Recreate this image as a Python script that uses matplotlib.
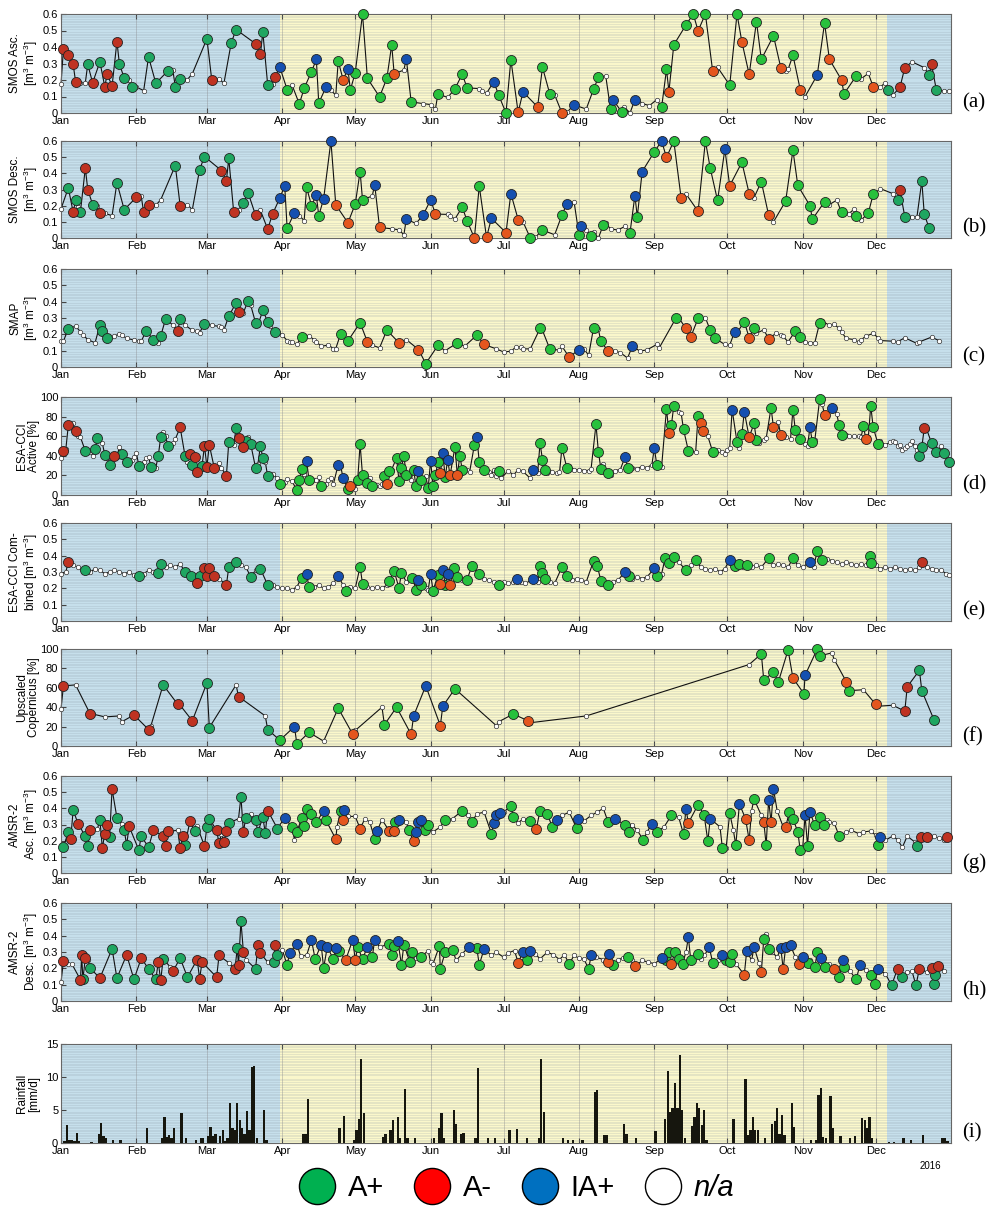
import numpy as np
import matplotlib.pyplot as plt
import matplotlib.dates as mdates
from matplotlib.lines import Line2D
from matplotlib.ticker import FuncFormatter

plt.rcParams['font.family'] = ['Liberation Sans', 'DejaVu Sans']
plt.rcParams['mathtext.default'] = 'regular'

# =========================
# DATA  (day of year 2016, value, class)
# class: g = A+, r = A-, b = IA+, n = n/a
# =========================
smos_asc = [
    (0, 0.173, 'n'), (1, 0.39, 'r'), (3, 0.35, 'r'), (5, 0.295, 'r'), (6, 0.19, 'r'), (7.8, 0.183, 'n'),
    (10, 0.183, 'n'), (11, 0.295, 'g'), (13, 0.183, 'r'), (16, 0.31, 'g'), (18, 0.16, 'r'), (19, 0.236, 'r'),
    (21, 0.163, 'r'), (23, 0.433, 'r'), (24, 0.30, 'g'), (26, 0.21, 'g'), (28, 0.197, 'n'), (29, 0.16, 'g'),
    (31, 0.157, 'n'), (34, 0.136, 'n'), (36, 0.34, 'g'), (39, 0.18, 'g'), (44, 0.256, 'g'), (46, 0.258, 'n'),
    (47, 0.16, 'g'), (49, 0.207, 'g'), (52, 0.203, 'n'), (54, 0.238, 'n'), (60, 0.45, 'g'), (62, 0.20, 'r'),
    (65, 0.207, 'n'), (67, 0.18, 'n'), (70, 0.425, 'g'), (72, 0.506, 'g'), (80, 0.42, 'r'), (82, 0.356, 'r'),
    (83, 0.49, 'g'), (85, 0.17, 'g'), (87, 0.175, 'n'), (88, 0.22, 'r'), (90, 0.277, 'b'), (93, 0.142, 'g'),
    (95, 0.17, 'n'), (98, 0.055, 'g'), (100, 0.15, 'g'), (103, 0.25, 'g'), (105, 0.325, 'b'), (106, 0.06, 'g'),
    (109, 0.158, 'b'), (111, 0.138, 'n'), (113, 0.108, 'n'), (114, 0.315, 'g'), (116, 0.203, 'r'),
    (118, 0.265, 'b'), (119, 0.14, 'g'), (121, 0.244, 'g'), (124, 0.60, 'g'), (126, 0.21, 'g'), (131, 0.098, 'g'),
    (134, 0.21, 'g'), (136, 0.413, 'g'), (137, 0.238, 'r'), (141, 0.26, 'n'), (142, 0.33, 'b'), (144, 0.067, 'g'),
    (149, 0.057, 'n'), (152, 0.051, 'n'), (154, 0.026, 'n'), (155, 0.116, 'g'), (159, 0.094, 'n'),
    (162, 0.146, 'g'), (165, 0.236, 'g'), (167, 0.152, 'g'), (172, 0.148, 'n'), (173, 0.136, 'n'),
    (175, 0.12, 'n'), (178, 0.19, 'b'), (180, 0.108, 'g'), (183, 0.0, 'g'), (185, 0.323, 'g'), (188, 0.004, 'r'),
    (190, 0.128, 'b'), (196, 0.037, 'r'), (198, 0.277, 'g'), (201, 0.116, 'g'), (203, 0.11, 'n'), (206, 0.0, 'r'),
    (208, 0.004, 'n'), (211, 0.049, 'b'), (216, 0.024, 'n'), (219, 0.144, 'g'), (221, 0.216, 'g'),
    (224, 0.226, 'n'), (226, 0.022, 'g'), (227, 0.08, 'b'), (230.5, 0.008, 'g'), (231.6, 0.037, 'n'),
    (234, 0.0, 'n'), (236, 0.081, 'b'), (237, 0.087, 'n'), (239, 0.057, 'n'), (242, 0.045, 'n'), (245, 0.081, 'n'),
    (247, 0.035, 'g'), (249, 0.264, 'g'), (250, 0.13, 'r'), (252, 0.413, 'g'), (257, 0.533, 'g'), (260, 0.60, 'g'),
    (262, 0.498, 'r'), (265, 0.60, 'g'), (268, 0.252, 'r'), (270, 0.277, 'n'), (275, 0.169, 'g'), (278, 0.60, 'g'),
    (280, 0.431, 'r'), (283, 0.234, 'r'), (286, 0.553, 'g'), (288, 0.325, 'g'), (293, 0.468, 'g'),
    (296, 0.275, 'r'), (298, 0.254, 'n'), (299, 0.264, 'n'), (301, 0.35, 'g'), (304, 0.142, 'r'), (306, 0.10, 'n'),
    (311, 0.23, 'b'), (314, 0.545, 'g'), (316, 0.325, 'r'), (321, 0.20, 'r'), (322, 0.116, 'g'), (327, 0.224, 'g'),
    (329, 0.207, 'n'), (332, 0.24, 'n'), (334, 0.159, 'r'), (337, 0.159, 'n'), (339, 0.183, 'n'),
    (340, 0.138, 'g'), (342, 0.108, 'n'), (345, 0.155, 'r'), (347, 0.275, 'r'), (350, 0.31, 'n'),
    (355, 0.275, 'n'), (357, 0.23, 'g'), (358, 0.295, 'r'), (360, 0.138, 'g'), (363, 0.134, 'n'), (365, 0.134, 'n'),
]

smos_desc = [
    (0, 0.18, 'n'), (3, 0.31, 'g'), (5, 0.16, 'r'), (6, 0.234, 'g'), (7, 0.193, 'n'), (8, 0.163, 'g'),
    (10, 0.433, 'r'), (11, 0.30, 'r'), (13, 0.207, 'g'), (15, 0.20, 'n'), (16, 0.157, 'r'), (18, 0.153, 'n'),
    (21, 0.138, 'n'), (23, 0.342, 'g'), (26, 0.175, 'g'), (31, 0.252, 'r'), (33, 0.258, 'n'), (34, 0.159, 'r'),
    (36, 0.203, 'r'), (39, 0.203, 'n'), (41, 0.236, 'n'), (47, 0.448, 'g'), (49, 0.20, 'r'), (52, 0.207, 'n'),
    (54, 0.175, 'n'), (57, 0.423, 'g'), (59, 0.504, 'g'), (66, 0.417, 'r'), (68, 0.352, 'r'), (69, 0.492, 'g'),
    (71, 0.163, 'r'), (73, 0.175, 'n'), (75, 0.218, 'g'), (77, 0.277, 'g'), (80, 0.142, 'r'), (82, 0.171, 'n'),
    (85, 0.055, 'r'), (87, 0.148, 'r'), (90, 0.248, 'b'), (92, 0.323, 'b'), (93, 0.059, 'g'), (96, 0.157, 'b'),
    (98, 0.138, 'n'), (100, 0.108, 'n'), (101, 0.313, 'g'), (103, 0.201, 'g'), (105, 0.264, 'b'),
    (106, 0.138, 'g'), (108, 0.242, 'b'), (111, 0.60, 'b'), (113, 0.205, 'r'), (118, 0.094, 'r'),
    (121, 0.21, 'g'), (123, 0.411, 'g'), (124, 0.236, 'g'), (128, 0.26, 'n'), (129, 0.33, 'b'), (131, 0.065, 'r'),
    (136, 0.057, 'n'), (139, 0.051, 'n'), (141, 0.02, 'n'), (142, 0.116, 'b'), (146, 0.09, 'n'),
    (149, 0.144, 'b'), (152, 0.236, 'b'), (154, 0.148, 'r'), (159, 0.146, 'n'), (160, 0.134, 'n'),
    (162, 0.118, 'n'), (165, 0.191, 'g'), (167, 0.106, 'g'), (170, 0.0, 'r'), (172, 0.321, 'g'), (175, 0.004, 'r'),
    (177, 0.122, 'b'), (183, 0.033, 'r'), (185, 0.275, 'b'), (188, 0.114, 'r'), (190, 0.10, 'n'), (193, 0.0, 'g'),
    (195, 0.004, 'n'), (198, 0.049, 'g'), (203, 0.02, 'n'), (206, 0.142, 'g'), (208, 0.21, 'b'),
    (211, 0.224, 'n'), (213, 0.02, 'g'), (214, 0.077, 'b'), (216, 0.049, 'n'), (218, 0.012, 'g'),
    (219, 0.037, 'n'), (221, 0.0, 'n'), (223, 0.081, 'g'), (224, 0.09, 'n'), (226, 0.057, 'n'), (229, 0.049, 'n'),
    (232, 0.073, 'n'), (234, 0.033, 'g'), (236, 0.262, 'b'), (237, 0.132, 'g'), (239, 0.411, 'b'),
    (244, 0.533, 'g'), (247, 0.60, 'b'), (249, 0.498, 'r'), (252, 0.60, 'g'), (255, 0.25, 'r'), (257, 0.273, 'n'),
    (262, 0.165, 'r'), (265, 0.60, 'g'), (267, 0.431, 'g'), (270, 0.232, 'g'), (273, 0.549, 'b'),
    (275, 0.323, 'r'), (280, 0.468, 'g'), (283, 0.275, 'r'), (285, 0.25, 'n'), (288, 0.348, 'g'),
    (291, 0.142, 'r'), (293, 0.10, 'n'), (298, 0.228, 'g'), (301, 0.543, 'g'), (303, 0.325, 'g'), (308, 0.20, 'g'),
    (309, 0.116, 'g'), (314, 0.224, 'g'), (316, 0.207, 'n'), (319, 0.234, 'n'), (321, 0.159, 'g'),
    (324, 0.15, 'n'), (326, 0.177, 'n'), (327, 0.136, 'g'), (329, 0.11, 'n'), (332, 0.155, 'g'), (334, 0.27, 'g'),
    (337, 0.305, 'n'), (342, 0.275, 'n'), (344, 0.234, 'g'), (345, 0.295, 'r'), (347, 0.132, 'g'),
    (350, 0.13, 'n'), (352, 0.132, 'n'), (354, 0.352, 'g'), (355, 0.148, 'g'), (357, 0.061, 'g'),
]

smap = [
    (0, 0.158, 'n'), (1, 0.158, 'n'), (3, 0.234, 'g'), (6, 0.25, 'n'), (8, 0.216, 'n'), (9, 0.197, 'n'),
    (11, 0.168, 'n'), (14, 0.148, 'n'), (16, 0.257, 'g'), (17, 0.218, 'g'), (19, 0.175, 'g'), (22, 0.189, 'n'),
    (24, 0.203, 'n'), (25, 0.195, 'n'), (27, 0.175, 'n'), (30, 0.166, 'n'), (32, 0.158, 'n'), (33, 0.158, 'n'),
    (35, 0.22, 'g'), (38, 0.168, 'g'), (40, 0.144, 'n'), (41, 0.189, 'g'), (43, 0.294, 'g'), (46, 0.257, 'n'),
    (48, 0.22, 'r'), (49, 0.296, 'g'), (51, 0.257, 'n'), (54, 0.224, 'n'), (56, 0.218, 'n'), (57, 0.21, 'n'),
    (59, 0.265, 'g'), (62, 0.255, 'n'), (65, 0.249, 'n'), (66, 0.245, 'n'), (67, 0.226, 'n'), (69, 0.312, 'g'),
    (72, 0.392, 'g'), (73, 0.339, 'r'), (75, 0.333, 'n'), (77, 0.407, 'g'), (78, 0.38, 'n'), (80, 0.271, 'g'),
    (81, 0.257, 'n'), (83, 0.347, 'g'), (85, 0.277, 'g'), (86, 0.249, 'n'), (88, 0.212, 'g'), (91, 0.195, 'n'),
    (93, 0.162, 'n'), (94, 0.154, 'n'), (95, 0.154, 'n'), (97, 0.138, 'n'), (99, 0.185, 'g'), (102, 0.191, 'n'),
    (104, 0.168, 'n'), (105, 0.154, 'n'), (107, 0.127, 'n'), (110, 0.134, 'n'), (112, 0.113, 'n'),
    (113, 0.113, 'n'), (115, 0.203, 'g'), (118, 0.16, 'g'), (123, 0.271, 'g'), (126, 0.154, 'r'),
    (128, 0.134, 'n'), (131, 0.117, 'n'), (134, 0.226, 'g'), (139, 0.148, 'r'), (142, 0.168, 'n'),
    (147, 0.107, 'r'), (150, 0.021, 'g'), (155, 0.132, 'g'), (158, 0.10, 'n'), (163, 0.148, 'g'),
    (166, 0.127, 'n'), (171, 0.195, 'g'), (174, 0.138, 'r'), (179, 0.111, 'n'), (182, 0.092, 'n'),
    (185, 0.097, 'n'), (187, 0.121, 'n'), (189, 0.125, 'n'), (190, 0.111, 'n'), (193, 0.111, 'n'),
    (197, 0.236, 'g'), (198, 0.224, 'n'), (201, 0.111, 'g'), (205, 0.103, 'n'), (206, 0.127, 'n'),
    (209, 0.06, 'r'), (213, 0.107, 'b'), (215, 0.111, 'n'), (217, 0.072, 'n'), (219, 0.24, 'g'), (221, 0.23, 'n'),
    (222, 0.158, 'g'), (225, 0.097, 'r'), (228, 0.097, 'n'), (230, 0.088, 'n'), (233, 0.055, 'n'),
    (235, 0.129, 'b'), (238, 0.097, 'n'), (241, 0.105, 'n'), (245, 0.138, 'n'), (246, 0.117, 'n'),
    (253, 0.302, 'g'), (254, 0.302, 'n'), (257, 0.236, 'r'), (259, 0.185, 'r'), (262, 0.298, 'g'),
    (265, 0.302, 'n'), (267, 0.224, 'g'), (269, 0.175, 'g'), (273, 0.138, 'n'), (275, 0.134, 'n'),
    (277, 0.216, 'b'), (278, 0.21, 'n'), (281, 0.277, 'g'), (283, 0.179, 'r'), (285, 0.24, 'g'), (286, 0.206, 'n'),
    (289, 0.228, 'n'), (291, 0.173, 'r'), (294, 0.206, 'n'), (296, 0.195, 'n'), (297, 0.187, 'n'),
    (299, 0.154, 'n'), (302, 0.22, 'g'), (304, 0.185, 'g'), (306, 0.154, 'n'), (308, 0.148, 'n'), (310, 0.15, 'n'),
    (312, 0.271, 'g'), (313, 0.282, 'n'), (316, 0.255, 'n'), (318, 0.261, 'n'), (320, 0.236, 'n'),
    (321, 0.212, 'n'), (323, 0.175, 'n'), (326, 0.168, 'n'), (328, 0.154, 'n'), (329, 0.166, 'n'),
    (331, 0.189, 'n'), (334, 0.206, 'n'), (336, 0.179, 'n'), (337, 0.162, 'n'), (342, 0.158, 'n'),
    (344, 0.154, 'n'), (347, 0.179, 'n'), (352, 0.144, 'n'), (353, 0.154, 'n'), (358, 0.183, 'n'), (361, 0.162, 'n'),
]

cci_active = [
    (0, 38, 'n'), (1, 45, 'r'), (2, 47, 'n'), (3, 71, 'r'), (5, 73, 'n'), (6, 65, 'r'), (7, 60, 'n'), (8, 59, 'n'),
    (10, 45, 'g'), (12, 44, 'n'), (13, 40, 'n'), (14, 47, 'g'), (15, 58, 'g'), (17, 53, 'n'), (18, 41, 'g'),
    (19, 38, 'n'), (20, 31, 'g'), (22, 40, 'r'), (23, 39, 'n'), (24, 49, 'n'), (25, 42, 'g'), (27, 34, 'g'),
    (29, 36, 'n'), (30, 39, 'n'), (31, 43, 'n'), (32, 30, 'g'), (34, 34, 'n'), (35, 38, 'n'), (36, 39, 'n'),
    (37, 29, 'g'), (39, 28, 'n'), (40, 40, 'g'), (41, 59, 'g'), (42, 64, 'n'), (43, 60, 'n'), (44, 50, 'g'),
    (46, 53, 'n'), (47, 57, 'n'), (49, 69, 'r'), (51, 40, 'g'), (52, 34, 'n'), (53, 42, 'r'), (54, 31, 'g'),
    (55, 39, 'r'), (56, 23, 'r'), (58, 30, 'g'), (59, 50, 'r'), (60, 29, 'r'), (61, 51, 'r'), (63, 28, 'r'),
    (64, 28, 'n'), (65, 33, 'n'), (66, 28, 'n'), (68, 19, 'r'), (69, 54, 'g'), (71, 51, 'n'), (72, 68, 'g'),
    (73, 58, 'r'), (75, 49, 'r'), (76, 55, 'g'), (77, 59, 'n'), (78, 52, 'g'), (80, 28, 'g'), (81, 32, 'n'),
    (82, 50, 'g'), (83, 38, 'g'), (84, 34, 'n'), (85, 19, 'g'), (87, 21, 'n'), (89, 17, 'n'), (90, 11, 'g'),
    (92, 13, 'n'), (93, 16, 'n'), (95, 14, 'n'), (97, 5, 'g'), (98, 15, 'g'), (99, 27, 'g'), (100, 21, 'n'),
    (101, 35, 'b'), (102, 15, 'g'), (104, 15, 'n'), (105, 15, 'n'), (106, 18, 'n'), (107, 9, 'g'), (109, 11, 'n'),
    (110, 15, 'n'), (111, 17, 'n'), (112, 11, 'n'), (114, 31, 'b'), (115, 30, 'n'), (116, 17, 'b'), (118, 6, 'g'),
    (119, 9, 'r'), (121, 6, 'n'), (122, 15, 'g'), (123, 52, 'g'), (124, 20, 'g'), (126, 12, 'g'), (127, 17, 'n'),
    (128, 9, 'g'), (130, 10, 'n'), (131, 9, 'n'), (132, 11, 'n'), (133, 19, 'g'), (134, 11, 'r'), (135, 25, 'g'),
    (136, 26, 'n'), (138, 38, 'g'), (139, 14, 'g'), (140, 28, 'g'), (141, 40, 'g'), (142, 20, 'g'), (144, 15, 'n'),
    (145, 26, 'g'), (146, 9, 'g'), (147, 25, 'b'), (148, 15, 'g'), (150, 19, 'n'), (151, 7, 'g'), (152, 35, 'b'),
    (153, 9, 'g'), (154, 20, 'g'), (155, 34, 'g'), (156, 22, 'r'), (157, 43, 'b'), (158, 18, 'g'), (159, 36, 'b'),
    (160, 20, 'r'), (162, 49, 'g'), (163, 20, 'r'), (164, 40, 'g'), (165, 26, 'g'), (167, 26, 'n'), (168, 23, 'n'),
    (170, 51, 'g'), (171, 59, 'b'), (172, 34, 'g'), (174, 26, 'g'), (176, 23, 'n'), (177, 20, 'n'), (178, 26, 'n'),
    (179, 19, 'n'), (180, 24, 'g'), (181, 17, 'n'), (184, 25, 'n'), (186, 20, 'n'), (188, 26, 'n'), (190, 24, 'n'),
    (193, 17, 'n'), (194, 26, 'b'), (196, 22, 'n'), (197, 53, 'g'), (198, 36, 'g'), (199, 26, 'g'), (200, 22, 'n'),
    (202, 23, 'n'), (204, 22, 'n'), (205, 23, 'n'), (206, 48, 'g'), (208, 28, 'g'), (209, 30, 'n'), (211, 26, 'n'),
    (213, 26, 'n'), (215, 25, 'n'), (217, 25, 'n'), (218, 27, 'n'), (220, 72, 'g'), (221, 44, 'g'), (222, 27, 'g'),
    (223, 32, 'n'), (225, 22, 'g'), (226, 20, 'n'), (228, 25, 'n'), (230, 26, 'n'), (232, 39, 'b'), (233, 28, 'g'),
    (235, 28, 'n'), (237, 27, 'n'), (239, 29, 'n'), (241, 28, 'n'), (243, 31, 'n'), (244, 48, 'b'), (245, 31, 'g'),
    (247, 29, 'n'), (249, 88, 'g'), (250, 63, 'r'), (251, 71, 'g'), (252, 91, 'g'), (254, 85, 'n'), (255, 84, 'n'),
    (256, 67, 'g'), (258, 45, 'g'), (261, 44, 'n'), (262, 81, 'g'), (263, 73, 'r'), (264, 65, 'r'), (266, 60, 'n'),
    (268, 44, 'g'), (270, 46, 'n'), (272, 44, 'n'), (273, 42, 'n'), (274, 46, 'n'), (275, 48, 'n'), (276, 87, 'b'),
    (278, 54, 'g'), (279, 48, 'n'), (280, 62, 'g'), (281, 85, 'b'), (283, 59, 'r'), (285, 73, 'g'), (286, 56, 'g'),
    (287, 53, 'n'), (289, 56, 'n'), (290, 58, 'n'), (292, 89, 'g'), (293, 69, 'r'), (295, 74, 'n'), (296, 61, 'r'),
    (298, 59, 'n'), (300, 57, 'n'), (301, 87, 'g'), (302, 66, 'g'), (304, 57, 'g'), (306, 52, 'n'), (307, 50, 'n'),
    (308, 69, 'b'), (309, 54, 'g'), (310, 56, 'n'), (312, 98, 'g'), (313, 93, 'n'), (314, 82, 'r'), (315, 80, 'n'),
    (317, 89, 'b'), (319, 83, 'n'), (320, 71, 'g'), (321, 61, 'g'), (323, 61, 'n'), (324, 60, 'n'), (326, 60, 'n'),
    (328, 60, 'n'), (329, 59, 'n'), (330, 70, 'g'), (331, 57, 'r'), (332, 59, 'n'), (333, 91, 'g'), (334, 69, 'g'),
    (336, 52, 'g'), (337, 55, 'n'), (339, 51, 'n'), (341, 54, 'n'), (342, 55, 'n'), (343, 54, 'n'), (344, 50, 'n'),
    (345, 51, 'n'), (346, 46, 'n'), (347, 48, 'n'), (348, 50, 'n'), (349, 52, 'n'), (350, 55, 'n'), (351, 50, 'n'),
    (352, 46, 'n'), (353, 40, 'g'), (354, 49, 'g'), (355, 68, 'r'), (356, 67, 'n'), (358, 53, 'g'), (359, 50, 'n'),
    (360, 44, 'g'), (362, 50, 'n'), (363, 43, 'g'), (365, 34, 'g'),
]

cci_combined = [
    (0, 0.29, 'n'), (2, 0.30, 'n'), (3, 0.363, 'r'), (5, 0.34, 'n'), (7, 0.33, 'n'), (9, 0.31, 'n'),
    (10, 0.31, 'g'), (12, 0.30, 'n'), (14, 0.32, 'n'), (16, 0.31, 'n'), (18, 0.29, 'n'), (20, 0.30, 'n'),
    (22, 0.31, 'n'), (24, 0.30, 'n'), (26, 0.29, 'n'), (28, 0.30, 'n'), (30, 0.28, 'n'), (32, 0.276, 'g'),
    (34, 0.29, 'n'), (36, 0.31, 'n'), (38, 0.30, 'n'), (40, 0.295, 'g'), (41, 0.346, 'g'), (43, 0.33, 'n'),
    (45, 0.34, 'n'), (47, 0.33, 'n'), (49, 0.35, 'n'), (51, 0.30, 'g'), (53.5, 0.276, 'g'), (56, 0.23, 'r'),
    (57, 0.276, 'g'), (59, 0.326, 'r'), (60, 0.274, 'r'), (61, 0.326, 'r'), (63, 0.278, 'r'), (65, 0.26, 'n'),
    (68, 0.219, 'r'), (69, 0.33, 'g'), (72, 0.363, 'g'), (74, 0.34, 'n'), (76, 0.33, 'n'), (78, 0.272, 'g'),
    (80, 0.31, 'n'), (82, 0.32, 'g'), (85, 0.22, 'g'), (87, 0.22, 'n'), (89, 0.21, 'n'), (91, 0.20, 'n'),
    (93, 0.20, 'n'), (95, 0.19, 'n'), (97, 0.21, 'n'), (99, 0.264, 'g'), (101, 0.289, 'b'), (102, 0.206, 'g'),
    (104, 0.21, 'n'), (106, 0.22, 'n'), (108, 0.20, 'n'), (110, 0.21, 'n'), (112, 0.23, 'n'), (114, 0.276, 'b'),
    (116, 0.22, 'n'), (117, 0.181, 'g'), (119, 0.21, 'n'), (121, 0.20, 'n'), (123, 0.332, 'g'), (124, 0.227, 'g'),
    (126, 0.21, 'n'), (128, 0.20, 'n'), (130, 0.21, 'n'), (132, 0.20, 'n'), (134, 0.22, 'n'), (135, 0.243, 'g'),
    (137, 0.305, 'g'), (139, 0.202, 'g'), (140, 0.295, 'g'), (142, 0.24, 'n'), (144.5, 0.264, 'g'),
    (146, 0.192, 'g'), (147, 0.254, 'b'), (148, 0.223, 'g'), (150, 0.20, 'n'), (151, 0.19, 'n'), (152, 0.289, 'b'),
    (153, 0.186, 'g'), (155, 0.28, 'g'), (156, 0.227, 'r'), (157, 0.313, 'b'), (158, 0.223, 'g'), (159, 0.289, 'b'),
    (160, 0.223, 'r'), (161.6, 0.326, 'g'), (163, 0.268, 'g'), (165, 0.25, 'n'), (167, 0.254, 'g'),
    (169, 0.338, 'g'), (172, 0.285, 'g'), (174, 0.26, 'n'), (176, 0.25, 'n'), (178, 0.24, 'n'), (180, 0.223, 'g'),
    (182, 0.24, 'n'), (184, 0.23, 'n'), (186, 0.24, 'n'), (187.5, 0.256, 'b'), (189, 0.24, 'n'), (191, 0.23, 'n'),
    (194, 0.256, 'b'), (196, 0.24, 'n'), (197, 0.336, 'g'), (198, 0.295, 'g'), (199, 0.26, 'g'), (201, 0.24, 'n'),
    (203, 0.23, 'n'), (206, 0.33, 'g'), (208, 0.274, 'g'), (210, 0.25, 'n'), (212, 0.26, 'n'), (214, 0.25, 'n'),
    (216, 0.24, 'n'), (219, 0.367, 'g'), (220.6, 0.336, 'g'), (222, 0.247, 'g'), (225, 0.223, 'g'),
    (227, 0.24, 'n'), (229, 0.25, 'n'), (232, 0.30, 'b'), (233.5, 0.276, 'g'), (235, 0.26, 'n'), (237, 0.27, 'n'),
    (239, 0.26, 'n'), (241, 0.27, 'n'), (244, 0.322, 'b'), (245, 0.274, 'g'), (247, 0.29, 'n'), (248.5, 0.388, 'g'),
    (250, 0.357, 'g'), (252, 0.394, 'g'), (254, 0.36, 'n'), (257, 0.313, 'g'), (259, 0.34, 'n'), (261, 0.371, 'g'),
    (263, 0.33, 'n'), (265, 0.32, 'n'), (267, 0.31, 'n'), (269, 0.32, 'n'), (271, 0.30, 'n'), (273, 0.32, 'n'),
    (275, 0.375, 'b'), (277, 0.336, 'g'), (279, 0.35, 'g'), (280.5, 0.33, 'n'), (282, 0.344, 'g'), (284, 0.33, 'n'),
    (286, 0.34, 'n'), (288, 0.33, 'n'), (291, 0.384, 'g'), (293, 0.34, 'n'), (295, 0.35, 'n'), (297, 0.34, 'n'),
    (299, 0.33, 'n'), (301, 0.384, 'g'), (303, 0.34, 'n'), (305, 0.33, 'n'), (308, 0.363, 'b'), (309.5, 0.33, 'n'),
    (311, 0.429, 'g'), (313, 0.371, 'g'), (315, 0.38, 'n'), (317, 0.37, 'n'), (319, 0.36, 'n'), (321, 0.35, 'n'),
    (323, 0.36, 'n'), (325, 0.35, 'n'), (327, 0.34, 'n'), (329, 0.35, 'n'), (331, 0.34, 'n'), (332.5, 0.398, 'g'),
    (333, 0.357, 'g'), (335, 0.34, 'n'), (337, 0.32, 'n'), (339, 0.33, 'n'), (341, 0.32, 'n'), (343, 0.33, 'n'),
    (345, 0.32, 'n'), (347, 0.31, 'n'), (349, 0.32, 'n'), (351, 0.31, 'n'), (353, 0.33, 'n'), (354, 0.363, 'r'),
    (356, 0.33, 'n'), (358, 0.32, 'n'), (360, 0.31, 'n'), (362, 0.31, 'n'), (364, 0.29, 'n'), (365, 0.28, 'n'),
]

copernicus = [
    (0, 38, 'n'), (1, 62, 'r'), (6, 63, 'n'), (12, 33, 'r'), (13, 33, 'n'), (18, 30, 'n'), (24, 31, 'n'),
    (25, 25, 'n'), (30, 32, 'r'), (36, 17, 'r'), (37, 21, 'n'), (42, 63, 'g'), (48, 43, 'r'), (49, 42, 'n'),
    (54, 26, 'r'), (60, 65, 'g'), (61, 19, 'g'), (72, 63, 'n'), (73, 51, 'r'), (84, 31, 'n'), (85, 17, 'g'),
    (90, 6, 'g'), (96, 20, 'b'), (97, 2, 'g'), (102, 14, 'g'), (108, 5, 'n'), (114, 39, 'g'), (120, 12, 'r'),
    (121, 16, 'n'), (132, 40, 'n'), (133, 22, 'g'), (138, 40, 'g'), (144, 12, 'r'), (145, 31, 'b'), (150, 62, 'b'),
    (156, 21, 'r'), (157, 41, 'b'), (162, 59, 'g'), (179, 21, 'n'), (180, 25, 'n'), (186, 33, 'g'), (192, 26, 'r'),
    (193, 24, 'n'), (216, 31, 'n'), (283, 84, 'n'), (288, 95, 'g'), (289, 68, 'g'), (293, 76, 'g'), (295, 66, 'g'),
    (299, 99, 'g'), (301, 70, 'r'), (305.5, 54, 'g'), (306, 73, 'b'), (311, 100, 'g'), (312, 93, 'g'),
    (317, 96, 'n'), (318, 89, 'n'), (323, 66, 'r'), (324, 57, 'g'), (330, 58, 'n'), (335, 43, 'r'), (336, 41, 'n'),
    (342, 42, 'n'), (347, 36, 'r'), (348, 61, 'r'), (353, 78, 'g'), (354, 57, 'g'), (359, 27, 'g'), (360, 25, 'n'),
]

amsr_asc = [
    (0, 0.159, 'n'), (1, 0.159, 'g'), (3, 0.256, 'g'), (4, 0.21, 'r'), (5, 0.39, 'g'), (7, 0.305, 'r'),
    (10, 0.228, 'g'), (11, 0.167, 'g'), (12, 0.264, 'r'), (15, 0.275, 'n'), (16, 0.33, 'g'), (17, 0.153, 'r'),
    (18, 0.244, 'r'), (19, 0.295, 'r'), (20, 0.224, 'g'), (21, 0.519, 'r'), (23, 0.342, 'g'), (25, 0.305, 'n'),
    (26, 0.264, 'g'), (27, 0.173, 'g'), (28, 0.289, 'r'), (32, 0.142, 'g'), (33, 0.228, 'g'), (36, 0.159, 'g'),
    (38, 0.264, 'r'), (42, 0.228, 'r'), (43, 0.167, 'r'), (44, 0.258, 'r'), (48, 0.264, 'n'), (49, 0.153, 'r'),
    (50, 0.228, 'r'), (51, 0.173, 'g'), (53, 0.319, 'r'), (55, 0.26, 'g'), (56, 0.289, 'n'), (59, 0.167, 'r'),
    (60, 0.285, 'g'), (61, 0.336, 'g'), (64, 0.264, 'r'), (65, 0.183, 'r'), (66, 0.244, 'n'), (67, 0.193, 'r'),
    (68, 0.26, 'r'), (69, 0.309, 'g'), (73, 0.336, 'n'), (74, 0.472, 'g'), (75, 0.254, 'r'), (76, 0.342, 'g'),
    (78, 0.366, 'n'), (80, 0.325, 'g'), (81, 0.254, 'g'), (83, 0.346, 'g'), (84, 0.248, 'g'), (85, 0.386, 'r'),
    (89, 0.275, 'g'), (92, 0.342, 'b'), (95, 0.285, 'g'), (96, 0.207, 'n'), (97, 0.254, 'g'), (99, 0.342, 'g'),
    (100, 0.291, 'g'), (101, 0.397, 'g'), (103, 0.362, 'g'), (105, 0.315, 'g'), (108, 0.382, 'b'),
    (109, 0.325, 'g'), (113, 0.21, 'r'), (113.5, 0.285, 'n'), (115, 0.386, 'g'), (116, 0.325, 'r'),
    (116.5, 0.392, 'b'), (118, 0.35, 'n'), (121, 0.35, 'n'), (123, 0.275, 'r'), (125, 0.336, 'n'),
    (127, 0.315, 'n'), (129, 0.21, 'g'), (130, 0.26, 'b'), (132, 0.33, 'n'), (135, 0.26, 'r'), (137, 0.26, 'r'),
    (137.5, 0.315, 'g'), (139, 0.33, 'b'), (142, 0.315, 'n'), (143, 0.264, 'g'), (145, 0.197, 'r'),
    (146, 0.254, 'b'), (147, 0.315, 'b'), (148, 0.33, 'b'), (149.5, 0.264, 'g'), (151, 0.295, 'g'),
    (153, 0.254, 'n'), (156, 0.285, 'n'), (158, 0.33, 'g'), (161, 0.336, 'n'), (165, 0.386, 'g'),
    (167.5, 0.36, 'n'), (169, 0.315, 'g'), (171, 0.366, 'n'), (174, 0.376, 'n'), (177, 0.244, 'g'),
    (178, 0.309, 'b'), (179, 0.356, 'b'), (180.5, 0.37, 'b'), (182, 0.376, 'n'), (185, 0.417, 'g'),
    (186, 0.346, 'g'), (188, 0.309, 'n'), (190, 0.336, 'n'), (193, 0.321, 'g'), (195.5, 0.275, 'r'),
    (197, 0.386, 'g'), (199, 0.376, 'n'), (200, 0.366, 'g'), (202, 0.285, 'g'), (204, 0.33, 'b'), (206, 0.356, 'n'),
    (209, 0.376, 'n'), (212, 0.279, 'g'), (212.5, 0.336, 'b'), (215, 0.321, 'n'), (218, 0.356, 'n'),
    (220.5, 0.376, 'n'), (223, 0.40, 'n'), (225, 0.315, 'g'), (227, 0.315, 'n'), (228, 0.336, 'b'),
    (232, 0.295, 'g'), (233.5, 0.254, 'g'), (235, 0.295, 'n'), (237, 0.264, 'n'), (239.5, 0.203, 'g'),
    (241, 0.254, 'n'), (243, 0.305, 'b'), (245, 0.254, 'g'), (248, 0.285, 'n'), (251, 0.356, 'g'),
    (254, 0.346, 'n'), (256, 0.24, 'g'), (257, 0.397, 'b'), (258, 0.309, 'r'), (262, 0.423, 'g'),
    (264.5, 0.356, 'g'), (266, 0.197, 'g'), (267, 0.336, 'b'), (271, 0.285, 'n'), (272, 0.153, 'g'),
    (273.5, 0.153, 'n'), (275, 0.37, 'g'), (276.5, 0.264, 'n'), (277.5, 0.173, 'g'), (279, 0.427, 'b'),
    (281.5, 0.336, 'r'), (283, 0.203, 'r'), (284, 0.386, 'n'), (285, 0.458, 'g'), (288, 0.356, 'n'),
    (289, 0.315, 'r'), (290, 0.173, 'g'), (291, 0.452, 'b'), (292, 0.315, 'r'), (293, 0.519, 'b'),
    (294.5, 0.386, 'n'), (297, 0.285, 'n'), (298, 0.285, 'r'), (299.5, 0.376, 'g'), (301, 0.336, 'g'),
    (303, 0.254, 'g'), (304, 0.142, 'g'), (305, 0.153, 'n'), (306, 0.356, 'b'), (307, 0.167, 'g'),
    (308, 0.376, 'b'), (310, 0.295, 'g'), (311, 0.315, 'n'), (312, 0.346, 'g'), (313.6, 0.295, 'g'),
    (315, 0.325, 'n'), (316, 0.315, 'n'), (318, 0.309, 'n'), (320, 0.228, 'g'), (323, 0.254, 'n'),
    (325, 0.264, 'n'), (328, 0.244, 'n'), (330, 0.254, 'n'), (333, 0.26, 'n'), (335, 0.234, 'n'), (336, 0.173, 'g'),
    (337, 0.224, 'b'), (339, 0.203, 'n'), (342, 0.228, 'n'), (344, 0.207, 'n'), (346, 0.159, 'n'),
    (348, 0.228, 'n'), (351, 0.193, 'n'), (352, 0.167, 'g'), (353.5, 0.224, 'r'), (355, 0.21, 'n'),
    (356, 0.224, 'r'), (359, 0.228, 'n'), (361, 0.214, 'n'), (363, 0.203, 'n'), (364.5, 0.22, 'r'),
]

amsr_desc = [
    (0, 0.116, 'n'), (1, 0.242, 'r'), (3, 0.228, 'n'), (4.5, 0.226, 'n'), (8, 0.13, 'r'), (8.5, 0.279, 'r'),
    (9, 0.132, 'g'), (10, 0.262, 'r'), (11, 0.254, 'n'), (12, 0.201, 'g'), (16, 0.14, 'r'), (21, 0.319, 'g'),
    (23, 0.14, 'g'), (27, 0.283, 'r'), (30, 0.132, 'g'), (33, 0.262, 'r'), (36, 0.197, 'g'), (39, 0.132, 'g'),
    (40, 0.238, 'r'), (41, 0.126, 'r'), (42, 0.258, 'g'), (45, 0.207, 'n'), (46, 0.181, 'r'), (49, 0.262, 'g'),
    (52, 0.146, 'g'), (56, 0.254, 'r'), (57, 0.136, 'r'), (58, 0.238, 'r'), (64, 0.146, 'r'), (65, 0.279, 'r'),
    (69, 0.234, 'n'), (71.5, 0.193, 'r'), (72.5, 0.323, 'g'), (73, 0.218, 'r'), (74, 0.488, 'g'), (75, 0.303, 'r'),
    (76, 0.254, 'n'), (80, 0.197, 'g'), (81, 0.34, 'r'), (82, 0.293, 'r'), (85, 0.238, 'n'), (87.5, 0.238, 'g'),
    (88, 0.344, 'r'), (89, 0.279, 'g'), (91, 0.315, 'n'), (93, 0.218, 'g'), (94, 0.295, 'b'), (97, 0.35, 'b'),
    (98.5, 0.275, 'n'), (101, 0.279, 'n'), (103, 0.374, 'b'), (104.5, 0.258, 'g'), (107, 0.344, 'b'),
    (108, 0.203, 'g'), (109.5, 0.33, 'b'), (112, 0.258, 'g'), (113, 0.323, 'b'), (114.5, 0.309, 'g'),
    (117, 0.248, 'r'), (120, 0.376, 'b'), (121, 0.248, 'r'), (122, 0.33, 'g'), (124, 0.258, 'g'), (126, 0.33, 'b'),
    (128, 0.268, 'g'), (129, 0.376, 'b'), (131, 0.33, 'n'), (135, 0.35, 'g'), (136, 0.283, 'g'), (137, 0.335, 'g'),
    (138.5, 0.37, 'b'), (140, 0.222, 'g'), (141, 0.344, 'g'), (143.5, 0.238, 'g'), (144.5, 0.299, 'g'),
    (146, 0.262, 'n'), (148, 0.268, 'g'), (151, 0.309, 'n'), (152, 0.238, 'n'), (153, 0.228, 'n'),
    (155.6, 0.335, 'g'), (156, 0.197, 'g'), (158, 0.299, 'g'), (161, 0.315, 'g'), (162.5, 0.248, 'n'),
    (165, 0.289, 'n'), (167.6, 0.33, 'b'), (169, 0.319, 'n'), (171, 0.323, 'g'), (172, 0.222, 'g'),
    (174, 0.319, 'b'), (177, 0.279, 'n'), (179, 0.299, 'n'), (182, 0.268, 'n'), (184, 0.295, 'n'),
    (186.5, 0.309, 'n'), (188, 0.234, 'r'), (190, 0.299, 'b'), (191.6, 0.254, 'g'), (193, 0.309, 'b'),
    (195, 0.289, 'n'), (197, 0.258, 'n'), (200, 0.299, 'n'), (202.5, 0.283, 'n'), (205, 0.254, 'n'),
    (207, 0.283, 'n'), (209, 0.228, 'g'), (211, 0.279, 'n'), (213, 0.262, 'n'), (215, 0.258, 'n'),
    (217, 0.197, 'g'), (218, 0.279, 'b'), (220, 0.268, 'n'), (223, 0.254, 'n'), (225, 0.238, 'r'),
    (225.5, 0.289, 'b'), (227, 0.218, 'g'), (229, 0.254, 'n'), (231, 0.262, 'n'), (233, 0.268, 'g'),
    (235, 0.248, 'n'), (236, 0.212, 'r'), (239, 0.248, 'n'), (241.6, 0.238, 'n'), (244, 0.228, 'n'),
    (247, 0.262, 'b'), (249, 0.248, 'g'), (250, 0.299, 'g'), (251, 0.228, 'r'), (252.5, 0.299, 'g'),
    (254, 0.258, 'g'), (255.6, 0.228, 'g'), (257, 0.299, 'n'), (258, 0.39, 'b'), (259, 0.248, 'g'),
    (262, 0.289, 'g'), (263, 0.258, 'n'), (264.6, 0.279, 'n'), (266.6, 0.33, 'b'), (268, 0.234, 'g'),
    (270, 0.248, 'n'), (272, 0.283, 'b'), (273.6, 0.248, 'g'), (275, 0.238, 'g'), (276, 0.289, 'g'),
    (277.5, 0.228, 'n'), (281, 0.161, 'r'), (282, 0.309, 'b'), (284, 0.248, 'n'), (285, 0.33, 'b'),
    (287, 0.234, 'n'), (288, 0.177, 'r'), (289, 0.38, 'g'), (290, 0.411, 'n'), (291, 0.319, 'g'),
    (292.5, 0.299, 'n'), (294.5, 0.268, 'n'), (296, 0.323, 'b'), (297, 0.197, 'r'), (298, 0.33, 'b'),
    (300, 0.34, 'b'), (302, 0.268, 'n'), (303.5, 0.228, 'r'), (305, 0.268, 'b'), (307, 0.234, 'g'),
    (308, 0.248, 'n'), (310, 0.207, 'g'), (311, 0.299, 'g'), (312.5, 0.264, 'b'), (314, 0.207, 'g'),
    (316, 0.228, 'n'), (318, 0.197, 'r'), (320, 0.146, 'g'), (321.5, 0.254, 'b'), (322, 0.207, 'g'),
    (324.6, 0.181, 'n'), (327, 0.132, 'g'), (328.6, 0.222, 'b'), (331, 0.187, 'n'), (333, 0.157, 'g'),
    (334.6, 0.106, 'g'), (336, 0.197, 'b'), (339, 0.167, 'n'), (341.6, 0.096, 'g'), (344, 0.197, 'r'),
    (346, 0.146, 'g'), (348, 0.177, 'n'), (350, 0.181, 'n'), (351.6, 0.096, 'g'), (353, 0.197, 'r'),
    (356, 0.177, 'n'), (358, 0.201, 'r'), (359, 0.106, 'g'), (359.5, 0.157, 'g'), (360.6, 0.214, 'r'),
    (362, 0.207, 'n'), (363, 0.181, 'n'),
]

# daily rainfall [mm/d]
rain = [
    (1, 0.3), (2, 2.8), (3, 0.4), (4, 0.4), (5, 0.3), (6, 1.5), (7, 0.3), (12, 0.2), (15, 1.4), (16, 3.0),
    (17, 1.0), (18, 0.8), (21, 0.5), (24, 0.4), (35, 2.3), (41, 0.8), (42, 4.0), (43, 0.9), (44, 1.2), (45, 0.8),
    (46, 2.2), (49, 4.5), (51, 0.7), (55, 0.4), (57, 0.8), (58, 0.8), (60, 1.0), (61, 2.5), (62, 1.0), (63, 1.3),
    (65, 1.0), (66, 1.9), (67, 0.3), (68, 0.8), (69, 6.1), (70, 2.2), (71, 1.9), (72, 6.0), (73, 3.5), (74, 2.2),
    (75, 1.4), (76, 4.9), (77, 1.9), (78, 11.5), (79, 11.6), (80, 0.8), (83, 5.0), (84, 0.4),
    (99, 1.4), (100, 1.3), (101, 6.6), (114, 2.2), (116, 4.1), (120, 0.5), (121, 2.0), (122, 3.7), (123, 12.7),
    (124, 4.6), (132, 0.9), (133, 1.3), (135, 2.0), (136, 3.5), (138, 4.0), (139, 0.8), (141, 8.2), (142, 0.8),
    (145, 0.7), (153, 0.7), (155, 2.2), (156, 4.6), (157, 0.7), (161, 5.0), (162, 2.9), (164, 1.4), (165, 1.5),
    (170, 0.7), (171, 11.4), (175, 0.8), (178, 0.7), (184, 2.0), (187, 2.1), (191, 0.7), (196, 0.7), (197, 12.7),
    (198, 4.7), (206, 0.7), (208, 0.5), (210, 0.5), (214, 0.5), (219, 7.7), (220, 8.0), (223, 1.2), (224, 1.2),
    (231, 2.9), (232, 1.4), (236, 0.7), (244, 1.8), (248, 3.7), (249, 10.9), (250, 4.7), (251, 5.3), (252, 9.1),
    (253, 5.3), (254, 13.3), (255, 5.0), (256, 0.7), (259, 2.6), (260, 4.0), (261, 6.0), (262, 5.3), (263, 2.7),
    (264, 5.0), (265, 0.4), (276, 3.6), (281, 9.7), (282, 1.2), (283, 2.0), (284, 3.9), (285, 1.9), (286, 1.9),
    (289, 0.7), (292, 2.9), (293, 3.4), (294, 5.3), (295, 1.4), (296, 4.2), (297, 1.2), (300, 6.1), (301, 2.4),
    (308, 0.4), (310, 0.4), (311, 7.3), (312, 8.3), (313, 0.9), (314, 0.8), (316, 7.1), (317, 2.3), (320, 1.0),
    (324, 0.8), (326, 1.0), (329, 3.8), (330, 3.5), (331, 2.3), (332, 4.0), (333, 0.7), (340, 0.2), (342, 0.2),
    (346, 0.7), (349, 0.5), (354, 1.2), (362, 0.8), (363, 0.7), (364, 0.3),
]

ylabels = ['SMOS Asc.\n[m$^3$ m$^{-3}$]', 'SMOS Desc.\n[m$^3$ m$^{-3}$]', 'SMAP\n[m$^3$ m$^{-3}$]',
           'ESA-CCI\nActive [%]', 'ESA-CCI Com-\nbined [m$^3$ m$^{-3}$]', 'Upscaled\nCopernicus [%]',
           'AMSR-2\nAsc. [m$^3$ m$^{-3}$]', 'AMSR-2\nDesc. [m$^3$ m$^{-3}$]', 'Rainfall\n[mm/d]']
tags = ['(a)', '(b)', '(c)', '(d)', '(e)', '(f)', '(g)', '(h)', '(i)']

# =========================
# STYLE
# =========================
BLUE_BG = '#c6dfeb'
YEL_BG = '#faf7cb'
COL_YEL = {'g': '#27c13c', 'r': '#e4561e', 'b': '#1550b0'}
COL_BLU = {'g': '#1fa661', 'r': '#bf3322', 'b': '#1a4d9c'}
WET_END = 90.0      # end of first wet (blue) period, day of year
WET_START = 339.5   # start of second wet period

start = np.datetime64('2016-01-01T00')
end = np.datetime64('2017-01-01T00')
month_ticks = [np.datetime64(f'2016-{m:02d}-01T00') for m in range(1, 13)]


def to_dates(days):
    hours = np.round(np.asarray(days, dtype=float) * 24).astype(int)
    return start + hours.astype('timedelta64[h]')


def style_axes(ax, ylim, ystep, tag, ylabel):
    ax.set_xlim(start, end)
    ax.set_ylim(*ylim)
    ax.axvspan(start, to_dates([WET_END])[0], color=BLUE_BG, zorder=0, lw=0)
    ax.axvspan(to_dates([WET_END])[0], to_dates([WET_START])[0], color=YEL_BG, zorder=0, lw=0)
    ax.axvspan(to_dates([WET_START])[0], end, color=BLUE_BG, zorder=0, lw=0)
    ax.set_yticks(np.arange(ylim[0], ylim[1] + ystep / 2, ystep))
    ax.set_yticks(np.linspace(ylim[0], ylim[1], 61), minor=True)
    ax.yaxis.set_major_formatter(FuncFormatter(lambda v, _: f'{v:g}'))
    ax.set_xticks(month_ticks)
    ax.xaxis.set_major_formatter(mdates.DateFormatter('%b'))
    ax.set_axisbelow(True)
    ax.grid(axis='y', which='minor', color='#8c98a4', alpha=0.35, lw=0.4)
    ax.grid(axis='x', which='major', color='#888888', alpha=0.45, lw=0.6)
    ax.tick_params(which='major', direction='in', length=3.5, top=True, labelsize=8,
                   color='#444444', pad=2)
    ax.tick_params(which='minor', length=0)
    for s in ax.spines.values():
        s.set_color('#666666')
        s.set_linewidth(0.8)
    ax.set_ylabel(ylabel, fontsize=8.5, linespacing=1.0)
    ax.yaxis.set_label_coords(-0.024, 0.5)
    ax.text(1.012, 0.1, tag, transform=ax.transAxes, fontsize=15,
            family=['Liberation Serif', 'DejaVu Serif'], va='center', ha='left')


# =========================
# PLOT
# =========================
fig = plt.figure(figsize=(9.87, 12.09), dpi=100)
W, H = 987.0, 1209.0
tops = [14, 141, 269, 397, 523, 649, 776, 903, 1044]
bots = [113, 238, 367, 495, 621, 746, 873, 1001, 1143]

series = [smos_asc, smos_desc, smap, cci_active, cci_combined, copernicus, amsr_asc, amsr_desc]
limits = [(0, 0.6), (0, 0.6), (0, 0.6), (0, 100), (0, 0.6), (0, 100), (0, 0.6), (0, 0.6)]
steps = [0.1, 0.1, 0.1, 20, 0.1, 20, 0.1, 0.1]

for i in range(9):
    ax = fig.add_axes([61 / W, 1 - bots[i] / H, 890 / W, (bots[i] - tops[i]) / H])
    if i < 8:
        style_axes(ax, limits[i], steps[i], tags[i], ylabels[i])
        days = np.array([p[0] for p in series[i]], dtype=float)
        vals = np.array([p[1] for p in series[i]], dtype=float)
        cats = np.array([p[2] for p in series[i]])
        order = np.argsort(days, kind='stable')
        days, vals, cats = days[order], vals[order], cats[order]
        dates = to_dates(days)
        ax.plot(dates, vals, '-', color='#111111', lw=0.8, zorder=2, clip_on=False)
        m = cats == 'n'
        ax.plot(dates[m], vals[m], 'o', ms=3.2, mfc='white', mec='#333333', mew=0.5,
                ls='none', zorder=3, clip_on=False)
        wet = (days < WET_END) | (days > WET_START)
        for c in ['g', 'r', 'b']:
            for sel, pal in [(wet, COL_BLU), (~wet, COL_YEL)]:
                mm = (cats == c) & sel
                ax.plot(dates[mm], vals[mm], 'o', ms=7.2, mfc=pal[c], mec='#222222', mew=0.6,
                        ls='none', zorder=4, clip_on=False)
    else:
        style_axes(ax, (0, 15), 5, tags[i], ylabels[i])
        rdays = np.array([p[0] for p in rain], dtype=float)
        rvals = np.array([p[1] for p in rain], dtype=float)
        ax.bar(to_dates(rdays + 0.5), rvals, width=0.95, color='#16160e', zorder=3)

fig.text(930 / W, 1 - 1166 / H, '2016', fontsize=7, ha='center', va='center')

handles = [Line2D([], [], marker='o', ls='none', ms=26, mfc=c, mec='black', mew=1.0)
           for c in ['#00b050', '#ff0000', '#0070c0', 'white']]
leg = fig.legend(handles, ['A+', 'A-', 'IA+', 'n/a'], loc='center', ncol=4,
                 bbox_to_anchor=(0.523, 1 - 1188 / H), frameon=False, fontsize=21,
                 handletextpad=0.4, columnspacing=1.0, handlelength=1.3)
leg.get_texts()[3].set_style('italic')

fig.savefig('out.png', dpi=100)
